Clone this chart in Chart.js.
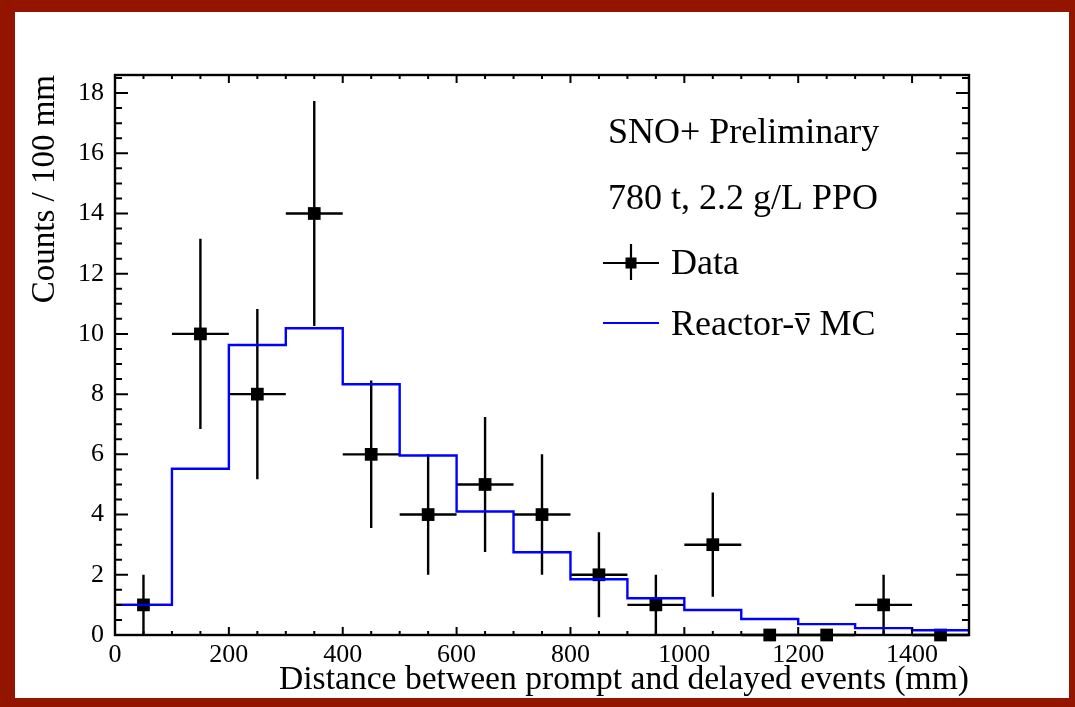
<!DOCTYPE html>
<html>
<head>
<meta charset="utf-8">
<script src="https://cdn.jsdelivr.net/npm/chart.js@4.4.1/dist/chart.umd.min.js"></script>
<style>
  html, body { margin: 0; padding: 0; background: #fff; overflow: hidden; }
  #wrap { width: 1075px; height: 707px; position: relative; }
  canvas { display: block; }
</style>
</head>
<body>
<div id="wrap"><canvas id="c" width="1075" height="707"></canvas></div>
<script>
// Measured prompt-delayed distance, 100 mm bins
const binCenters  = [50, 150, 250, 350, 450, 550, 650, 750, 850, 950, 1050, 1150, 1250, 1350, 1450];
const dataCounts  = [1, 10, 8, 14, 6, 4, 5, 4, 2, 1, 3, 0, 0, 1, 0];
const dataErrLow  = [1, 3.16, 2.83, 3.74, 2.45, 2, 2.24, 2, 1.41, 1, 1.73, 0, 0, 1, 0];
const dataErrHigh = [1, 3.16, 2.83, 3.74, 2.45, 2, 2.24, 2, 1.41, 1, 1.73, 0, 0, 1, 0];
const binHalfWidth = [50, 50, 50, 50, 50, 50, 50, 50, 50, 50, 50, 50, 50, 50, 50];

// Reactor antineutrino Monte Carlo expectation (left bin edges and contents)
const mcBinEdges = [0, 100, 200, 300, 400, 500, 600, 700, 800, 900, 1000, 1100, 1200, 1300, 1400];
const mcCounts   = [1.0, 5.52, 9.63, 10.19, 8.33, 5.96, 4.10, 2.75, 1.85, 1.22, 0.83, 0.53, 0.36, 0.23, 0.16];
const xRangeEnd = 1500;
const yRangeEnd = 18.6;

// Axis ticks
const xTickLabels = [0, 200, 400, 600, 800, 1000, 1200, 1400];
const yTickLabels = [0, 2, 4, 6, 8, 10, 12, 14, 16, 18];
const xMinorTicks = [0, 50, 100, 150, 200, 250, 300, 350, 400, 450, 500, 550, 600, 650, 700, 750, 800, 850, 900, 950, 1000, 1050, 1100, 1150, 1200, 1250, 1300, 1350, 1400, 1450, 1500];
const yMinorTicks = [0, 0.5, 1, 1.5, 2, 2.5, 3, 3.5, 4, 4.5, 5, 5.5, 6, 6.5, 7, 7.5, 8, 8.5, 9, 9.5, 10, 10.5, 11, 11.5, 12, 12.5, 13, 13.5, 14, 14.5, 15, 15.5, 16, 16.5, 17, 17.5, 18, 18.5];

// Texts
const xTitle = 'Distance between prompt and delayed events (mm)';
const yTitle = 'Counts / 100 mm';
const headerLines = ['SNO+ Preliminary', '780 t, 2.2 g/L PPO'];
const dataLabel = 'Data';
const mcLabelParts = ['Reactor-', 'ν', ' MC'];

const SERIF = '"Liberation Serif", "Times New Roman", serif';
const FRAME_RED = '#931500';

const pageFrame = {
  id: 'pageFrame',
  beforeDraw(chart) {
    const { ctx, width, height } = chart;
    ctx.save();
    ctx.fillStyle = FRAME_RED;
    ctx.fillRect(0, 0, width, height);
    ctx.fillStyle = '#ffffff';
    ctx.fillRect(15, 12, 1069 - 15, 698 - 12);
    ctx.restore();
  }
};

// Vertical (statistical) and horizontal (bin width) error bars, drawn just before the markers
const errorBars = {
  id: 'errorBars',
  beforeDatasetDraw(chart, args) {
    if (args.index !== 1) return;
    const { ctx, scales: { x, y } } = chart;
    ctx.save();
    ctx.strokeStyle = '#000';
    ctx.lineWidth = 2.4;
    binCenters.forEach((c, i) => {
      const px = x.getPixelForValue(c);
      const py = y.getPixelForValue(dataCounts[i]);
      ctx.beginPath();
      ctx.moveTo(x.getPixelForValue(c - binHalfWidth[i]), py);
      ctx.lineTo(x.getPixelForValue(c + binHalfWidth[i]), py);
      if (dataErrLow[i] > 0 || dataErrHigh[i] > 0) {
        ctx.moveTo(px, y.getPixelForValue(dataCounts[i] - dataErrLow[i]));
        ctx.lineTo(px, y.getPixelForValue(dataCounts[i] + dataErrHigh[i]));
      }
      ctx.stroke();
    });
    ctx.restore();
  }
};

const axisFrame = {
  id: 'axisFrame',
  afterDraw(chart) {
    const { ctx, chartArea: a, scales: { x, y } } = chart;
    ctx.save();
    ctx.strokeStyle = '#000';
    ctx.lineWidth = 2.4;
    ctx.strokeRect(a.left, a.top, a.right - a.left, a.bottom - a.top);
    ctx.lineWidth = 2;
    ctx.beginPath();
    xMinorTicks.forEach(v => {
      const px = x.getPixelForValue(v);
      const len = xTickLabels.includes(v) ? 8 : 4;
      ctx.moveTo(px, a.bottom); ctx.lineTo(px, a.bottom - len);
      ctx.moveTo(px, a.top); ctx.lineTo(px, a.top + len);
    });
    yMinorTicks.forEach(v => {
      const py = y.getPixelForValue(v);
      const len = yTickLabels.includes(v) ? 13 : 7;
      ctx.moveTo(a.left, py); ctx.lineTo(a.left + len, py);
      ctx.moveTo(a.right, py); ctx.lineTo(a.right - len, py);
    });
    ctx.stroke();
    ctx.restore();
  }
};

const plotLegend = {
  id: 'plotLegend',
  afterDraw(chart) {
    const { ctx } = chart;
    ctx.save();
    ctx.fillStyle = '#000';
    ctx.font = '36px ' + SERIF;
    ctx.textBaseline = 'alphabetic';
    ctx.textAlign = 'left';
    ctx.fillText(headerLines[0], 608, 143);
    ctx.fillText(headerLines[1], 608, 209);

    // Data entry: marker with error cross
    ctx.strokeStyle = '#000';
    ctx.lineWidth = 2.2;
    ctx.beginPath();
    ctx.moveTo(603, 263); ctx.lineTo(659, 263);
    ctx.moveTo(631, 244); ctx.lineTo(631, 280);
    ctx.stroke();
    ctx.fillRect(625.5, 257.5, 11, 11);
    ctx.fillText(dataLabel, 671, 274);

    // MC entry
    ctx.strokeStyle = '#0000ff';
    ctx.lineWidth = 2.2;
    ctx.beginPath();
    ctx.moveTo(603, 323); ctx.lineTo(659, 323);
    ctx.stroke();
    const tx = 671;
    const w0 = ctx.measureText(mcLabelParts[0]).width;
    const w1 = ctx.measureText(mcLabelParts[1]).width;
    ctx.fillText(mcLabelParts[0], tx, 335);
    ctx.fillText(mcLabelParts[1], tx + w0, 335);
    ctx.fillText(mcLabelParts[2], tx + w0 + w1, 335);
    // bar over the nu
    ctx.strokeStyle = '#000';
    ctx.lineWidth = 2;
    ctx.beginPath();
    ctx.moveTo(tx + w0 + 1, 314); ctx.lineTo(tx + w0 + w1 - 1, 314);
    ctx.stroke();
    ctx.restore();
  }
};

const mcLine = mcBinEdges.map((e, i) => ({ x: e, y: mcCounts[i] }));
mcLine.push({ x: xRangeEnd, y: mcCounts[mcCounts.length - 1] });

new Chart(document.getElementById('c'), {
  type: 'scatter',
  data: {
    datasets: [
      {
        type: 'line',
        label: 'Reactor MC',
        data: mcLine,
        stepped: 'before',
        borderColor: '#0000ff',
        borderWidth: 2.4,
        pointRadius: 0,
        fill: false,
        clip: false
      },
      {
        label: dataLabel,
        data: binCenters.map((c, i) => ({ x: c, y: dataCounts[i] })),
        pointStyle: 'rect',
        pointRadius: 9,
        pointBackgroundColor: '#000',
        pointBorderWidth: 0,
        clip: false
      }
    ]
  },
  options: {
    responsive: false,
    animation: false,
    devicePixelRatio: 1,
    layout: { padding: { left: 0, top: 75, right: 106, bottom: 0 } },
    plugins: { legend: { display: false }, tooltip: { enabled: false } },
    scales: {
      x: {
        type: 'linear',
        min: 0,
        max: xRangeEnd,
        grid: { display: false, drawTicks: false },
        border: { display: false },
        afterBuildTicks: s => { s.ticks = xTickLabels.map(v => ({ value: v })); },
        afterFit: s => { s.height = 72; },
        ticks: {
          autoSkip: false,
          maxRotation: 0,
          padding: 5,
          color: '#000',
          font: { family: SERIF, size: 26 },
          callback: v => String(v)
        },
        title: {
          display: true,
          text: xTitle,
          align: 'end',
          color: '#000',
          font: { family: SERIF, size: 33.6 },
          padding: { top: 0, bottom: 7 }
        }
      },
      y: {
        type: 'linear',
        min: 0,
        max: yRangeEnd,
        grid: { display: false, drawTicks: false },
        border: { display: false },
        afterBuildTicks: s => { s.ticks = yTickLabels.map(v => ({ value: v })); },
        afterFit: s => { s.width = 115; },
        ticks: {
          autoSkip: false,
          padding: 11,
          color: '#000',
          font: { family: SERIF, size: 26 },
          callback: v => String(v)
        },
        title: {
          display: true,
          text: yTitle,
          align: 'end',
          color: '#000',
          font: { family: SERIF, size: 33 },
          padding: { top: 26, bottom: 0 }
        }
      }
    }
  },
  plugins: [pageFrame, errorBars, axisFrame, plotLegend]
});
</script>
</body>
</html>
